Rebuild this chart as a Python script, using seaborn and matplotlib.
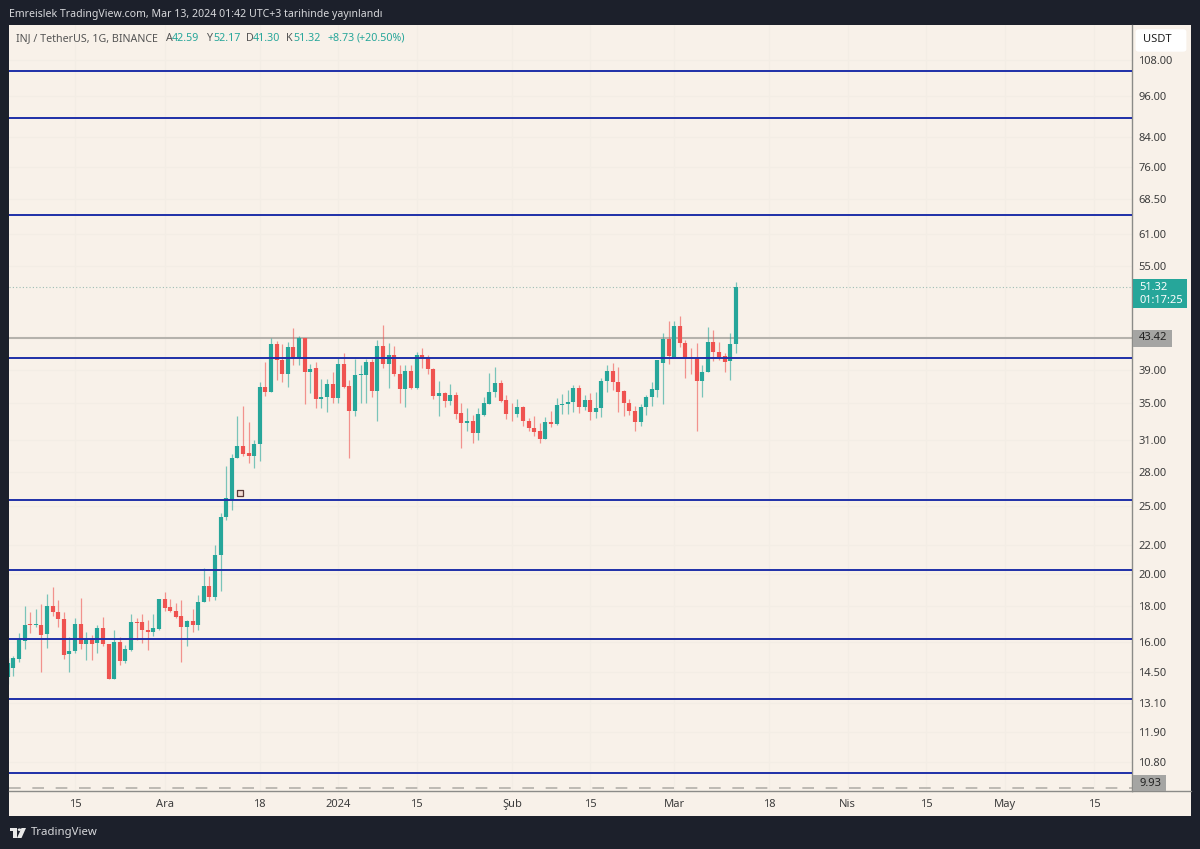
import numpy as np
import pandas as pd
import matplotlib
matplotlib.use("Agg")
import matplotlib.pyplot as plt
from matplotlib.patches import Rectangle, FancyBboxPatch, Circle, Polygon
from matplotlib.lines import Line2D
from matplotlib.ticker import NullLocator
import seaborn as sns

opens = [14.25,14.71,15.14,16.08,16.97,16.91,16.91,16.42,18.01,17.69,
         17.27,15.40,15.52,16.97,15.88,16.17,15.94,16.75,15.91,14.19,
         16.03,15.03,15.58,17.11,17.08,16.66,16.56,16.71,18.44,17.95,
         17.73,17.42,16.84,17.17,16.95,18.23,19.25,18.56,21.30,24.13,
         25.58,29.26,30.40,29.73,29.51,30.63,36.92,36.37,42.52,40.31,
         38.54,42.15,40.61,43.36,38.79,39.30,35.50,35.73,37.25,35.69,
         39.82,37.08,34.10,38.37,38.46,40.10,36.45,42.29,39.82,41.05,
         38.58,36.72,38.95,36.80,41.05,40.70,39.17,35.90,36.18,35.33,
         35.94,33.90,32.87,33.05,31.76,33.68,34.99,36.31,37.38,35.42,
         33.95,33.83,34.64,33.06,32.33,31.93,31.16,32.95,32.69,34.84,
         34.95,35.15,36.80,34.56,35.42,34.05,34.45,37.70,38.91,37.60,
         36.49,35.10,34.10,32.90,34.60,35.80,36.60,40.00,43.30,40.80,
         45.10,42.70,40.70,40.60,37.70,38.86,42.80,41.45,40.90,40.17,42.59]
closes = [14.95,15.18,16.15,16.93,16.91,16.97,16.38,18.01,17.69,17.27,
          15.36,15.55,16.97,15.88,16.17,15.92,16.75,15.88,14.19,16.03,
          15.05,15.62,17.10,17.06,16.66,16.55,16.75,18.44,17.92,17.75,
          17.40,16.81,17.17,16.95,18.23,19.25,18.56,21.30,24.13,25.66,
          29.26,30.40,29.67,29.51,30.63,36.92,36.37,42.52,40.31,38.54,
          42.15,40.61,43.40,38.79,39.21,35.50,35.73,37.25,35.69,39.82,
          37.00,34.10,38.46,38.54,40.10,36.45,42.29,39.82,41.05,38.54,
          36.72,38.95,36.80,41.05,40.61,39.17,35.90,36.21,35.33,35.98,
          33.83,32.87,33.05,31.76,33.76,35.03,36.39,37.46,35.34,33.83,
          33.87,34.64,33.06,32.29,31.90,31.16,32.95,32.73,34.84,34.99,
          35.19,36.80,34.56,35.42,34.05,34.48,37.70,38.91,37.60,36.39,
          35.03,34.10,32.90,34.60,35.80,36.70,40.30,43.30,40.85,45.10,
          42.70,40.70,40.60,37.70,38.86,42.80,41.45,40.80,40.05,42.59,51.32]
highs = [15.20,15.29,16.47,18.01,17.69,17.82,18.13,18.74,19.15,18.37,
         17.69,16.29,17.31,18.50,16.56,16.38,16.93,17.36,15.91,16.66,
         16.29,15.86,17.53,17.31,17.55,17.21,17.53,18.44,18.86,18.44,
         18.17,18.37,17.21,17.82,18.68,20.40,19.88,22.00,24.40,28.47,
         29.67,33.62,34.66,32.89,31.00,37.54,40.10,43.36,42.98,42.52,
         42.84,44.86,43.69,43.36,39.82,40.10,37.98,37.91,38.87,40.61,
         41.27,37.83,40.48,39.65,40.48,40.48,43.13,45.34,42.61,42.20,
         39.65,39.65,39.65,41.41,41.96,41.05,39.30,37.70,36.39,37.33,
         36.39,35.09,34.45,33.72,34.52,35.73,38.65,39.43,37.74,36.00,
         35.03,35.54,34.76,33.35,33.61,32.87,33.53,34.17,35.69,36.10,
         36.59,37.21,37.21,36.00,36.20,36.39,38.00,39.75,40.00,39.40,
         36.60,35.50,34.70,34.90,36.00,37.50,40.30,44.10,45.94,45.80,
         46.56,43.10,41.96,42.70,39.70,45.00,44.50,42.85,41.27,44.10,52.17]
lows = [13.95,14.32,14.98,15.64,16.47,16.84,14.51,15.72,17.44,16.84,
        15.13,14.51,15.43,15.64,15.10,15.10,15.43,15.81,14.19,14.19,
        14.84,14.95,15.55,16.11,15.96,15.60,16.33,16.66,17.75,17.69,
        17.34,15.00,15.81,16.56,16.66,18.23,18.30,18.40,18.95,23.90,
        24.70,29.26,29.48,28.78,28.31,29.03,35.90,36.37,37.83,37.58,
        37.00,39.69,39.65,34.96,36.21,34.44,34.47,34.03,35.11,35.11,
        36.80,29.26,33.62,35.11,35.03,35.73,33.03,39.37,36.88,38.25,
        35.11,34.58,36.72,36.72,39.37,38.54,35.50,33.62,34.64,34.84,
        33.24,30.26,31.93,30.78,31.06,33.61,34.95,35.73,35.19,33.24,
        33.06,33.53,32.51,32.01,31.41,30.78,31.16,32.44,32.62,33.83,
        33.83,34.05,33.90,34.25,33.17,33.35,33.46,36.39,36.59,34.05,
        33.60,33.70,32.00,32.50,33.65,34.70,35.80,34.90,39.80,40.60,
        42.10,38.00,38.55,32.00,35.80,38.86,40.20,40.40,38.86,37.80,41.30]
days = np.arange(-12, -12 + len(opens))  # days after 15 Nov 2023

level_lines = [104.2, 89.3, 64.9, 40.65, 25.5, 20.27, 16.17, 13.28, 10.43]
gray_level = 43.42
last_price = 51.32
low_level = 9.93
note_day, note_price = 29.5, 26.13

price_ticks = [108, 96, 84, 76, 68.5, 61, 55, 39, 35, 31, 28, 25, 22, 20, 18, 16, 14.5, 13.1, 11.9, 10.8]
date_ticks = [0, 16, 33, 47, 61, 78, 92, 107, 124, 138, 152, 166, 182]
date_labels = ["15", "Ara", "18", "2024", "15", "Şub", "15", "Mar", "18", "Nis", "15", "May", "15"]

FRAME = "#1c202b"; PANEL = "#f8f1e9"; GRID = "#f3ede5"; AXC = "#8b8b88"
GREEN = "#26a69a"; RED = "#ef5350"; BLUE = "#1f2fa8"; TXT = "#3d3d3d"
W, H = 1200, 849
FONT = ["Noto Sans", "DejaVu Sans"]

sns.set_theme(style="white")
plt.rcParams["font.family"] = FONT

fig = plt.figure(figsize=(12, 8.49), dpi=100, facecolor=FRAME)
def fx(x): return x / W
def fy(y): return 1 - y / H
def ftext(x, y, s, **kw):
    kw.setdefault("va", "center"); kw.setdefault("ha", "left")
    kw.setdefault("fontsize", 8); kw.setdefault("color", TXT)
    return fig.text(fx(x), fy(y), s, **kw)
def frect(x0, y0, x1, y1, **kw):
    p = Rectangle((fx(x0), fy(y1)), fx(x1 - x0), (y1 - y0) / H, transform=fig.transFigure, **kw)
    fig.add_artist(p); return p

frect(9, 25, 1190.5, 816, fc=PANEL, ec="none", zorder=0)

ax = fig.add_axes([fx(9), fy(791), fx(1132 - 9), (791 - 25) / H], facecolor=PANEL, zorder=1)
ax.set_yscale("log")

df = pd.DataFrame({"day": days, "open": opens, "high": highs, "low": lows, "close": closes})
df["dir"] = np.where(df["close"] >= df["open"], "up", "down")
palette = {"up": GREEN, "down": RED}
wicks = df.melt(id_vars=["day", "dir"], value_vars=["high", "low"], value_name="price")
bodies = df.melt(id_vars=["day", "dir"], value_vars=["open", "close"], value_name="price")

for v in level_lines:
    ax.axhline(v, color=BLUE, lw=1.4, zorder=4)
ax.axhline(gray_level, color="#b5b2ac", lw=1.5, zorder=1.5)
ax.axhline(last_price, color="#9dbdb4", lw=0.8, ls=(0, (1, 2)), zorder=1.5)
ax.axhline(low_level, color="#b3b0aa", lw=1.2, ls=(0, (7, 7)), zorder=1.5)

sns.lineplot(data=wicks, x="day", y="price", hue="dir", palette=palette, units="day",
             estimator=None, sort=False, lw=0.9, alpha=0.6, legend=False, ax=ax, zorder=2,
             solid_capstyle="butt")
sns.lineplot(data=bodies, x="day", y="price", hue="dir", palette=palette, units="day",
             estimator=None, sort=False, lw=3.0, legend=False, ax=ax, zorder=3,
             solid_capstyle="butt")
sns.scatterplot(x=[note_day], y=[note_price], marker="s", s=22, color="#f3dcd2",
                edgecolor="#5a3a38", linewidth=0.9, ax=ax, zorder=3, legend=False)

ax.set_xlim(-11.79, 188.75)
ax.set_ylim(9.82, 121.1)
ax.set_xlabel(""); ax.set_ylabel("")
ax.yaxis.set_minor_locator(NullLocator())
ax.yaxis.tick_right()
ax.set_yticks(price_ticks)
ax.set_yticklabels([f"{v:.2f}" for v in price_ticks])
ax.set_xticks(date_ticks)
ax.set_xticklabels(date_labels)
ax.tick_params(axis="both", length=0, labelsize=8, labelcolor=TXT)
ax.tick_params(axis="y", pad=4.5)
ax.tick_params(axis="x", pad=6)
for lab in ax.get_xticklabels():
    if lab.get_text() == "2024":
        lab.set_fontweight("bold")
ax.grid(True, color=GRID, lw=0.8, zorder=0)
ax.set_axisbelow(True)
for s in ["top", "left"]:
    ax.spines[s].set_visible(False)
for s in ["right", "bottom"]:
    ax.spines[s].set_color(AXC); ax.spines[s].set_linewidth(1.0)
fig.add_artist(Line2D([fx(1132), fx(1190.5)], [fy(791), fy(791)], color=AXC, lw=1.0,
                      transform=fig.transFigure, zorder=2))

# Price flags on the axis
frect(1132.5, 279, 1187, 308, fc=GREEN, ec="none", zorder=3)
ftext(1139, 287, "51.32", color="white", zorder=4, fontweight="medium")
ftext(1139, 300, "01:17:25", color="white", zorder=4)
frect(1132.5, 330, 1172, 346.5, fc="#a5a5a3", ec="none", zorder=3)
ftext(1139, 338, "43.42", color="#222222", zorder=4)
frect(1132.5, 775, 1166, 791, fc="#a5a5a3", ec="none", zorder=3)
ftext(1139, 783, "9.93", color="#222222", zorder=4)

# USDT button
btn = FancyBboxPatch((fx(1138), fy(50)), fx(46), 19 / H, boxstyle="round,pad=0.002,rounding_size=0.003",
                     fc="white", ec="none", transform=fig.transFigure, zorder=3)
fig.add_artist(btn)
ftext(1157, 40, "USDT", ha="center", color="#222222", zorder=4)

# Header texts
ftext(9, 14, "Emreislek TradingView.com, Mar 13, 2024 01:42 UTC+3 tarihinde yayınlandı",
      color="#d8d9dc", fontsize=7.6)
ftext(16, 38.5, "INJ / TetherUS, 1G, BINANCE", color="#555555", fontsize=7.7, zorder=5)
for x, s, c in [(166, "A", "#555555"), (172, "42.59", GREEN), (206, "Y", "#555555"), (213, "52.17", GREEN),
                (246, "D", "#555555"), (253, "41.30", GREEN), (286, "K", "#555555"), (293, "51.32", GREEN),
                (327, "+8.73", GREEN), (357, "(+20.50%)", GREEN)]:
    ftext(x, 38.5, s, color=c, fontsize=7.7, zorder=5)

# Footer logo
frect(9.5, 828, 17, 831, fc="#e8e8e8", ec="none", zorder=3)
frect(12.5, 828, 17, 838, fc="#e8e8e8", ec="none", zorder=3)
fig.add_artist(Circle((fx(19.5), fy(829.7)), 0.0015, fc="#e8e8e8", ec="none", transform=fig.transFigure, zorder=3))
fig.add_artist(Polygon([[fx(21.5), fy(828)], [fx(26), fy(828)], [fx(21.5), fy(838)], [fx(17), fy(838)]],
                       fc="#e8e8e8", ec="none", transform=fig.transFigure, zorder=3))
ftext(30.5, 833, "TradingView", color="#d8d9dc", fontsize=8.2, fontweight="medium")

fig.savefig("out.png", dpi=100, facecolor=FRAME)
